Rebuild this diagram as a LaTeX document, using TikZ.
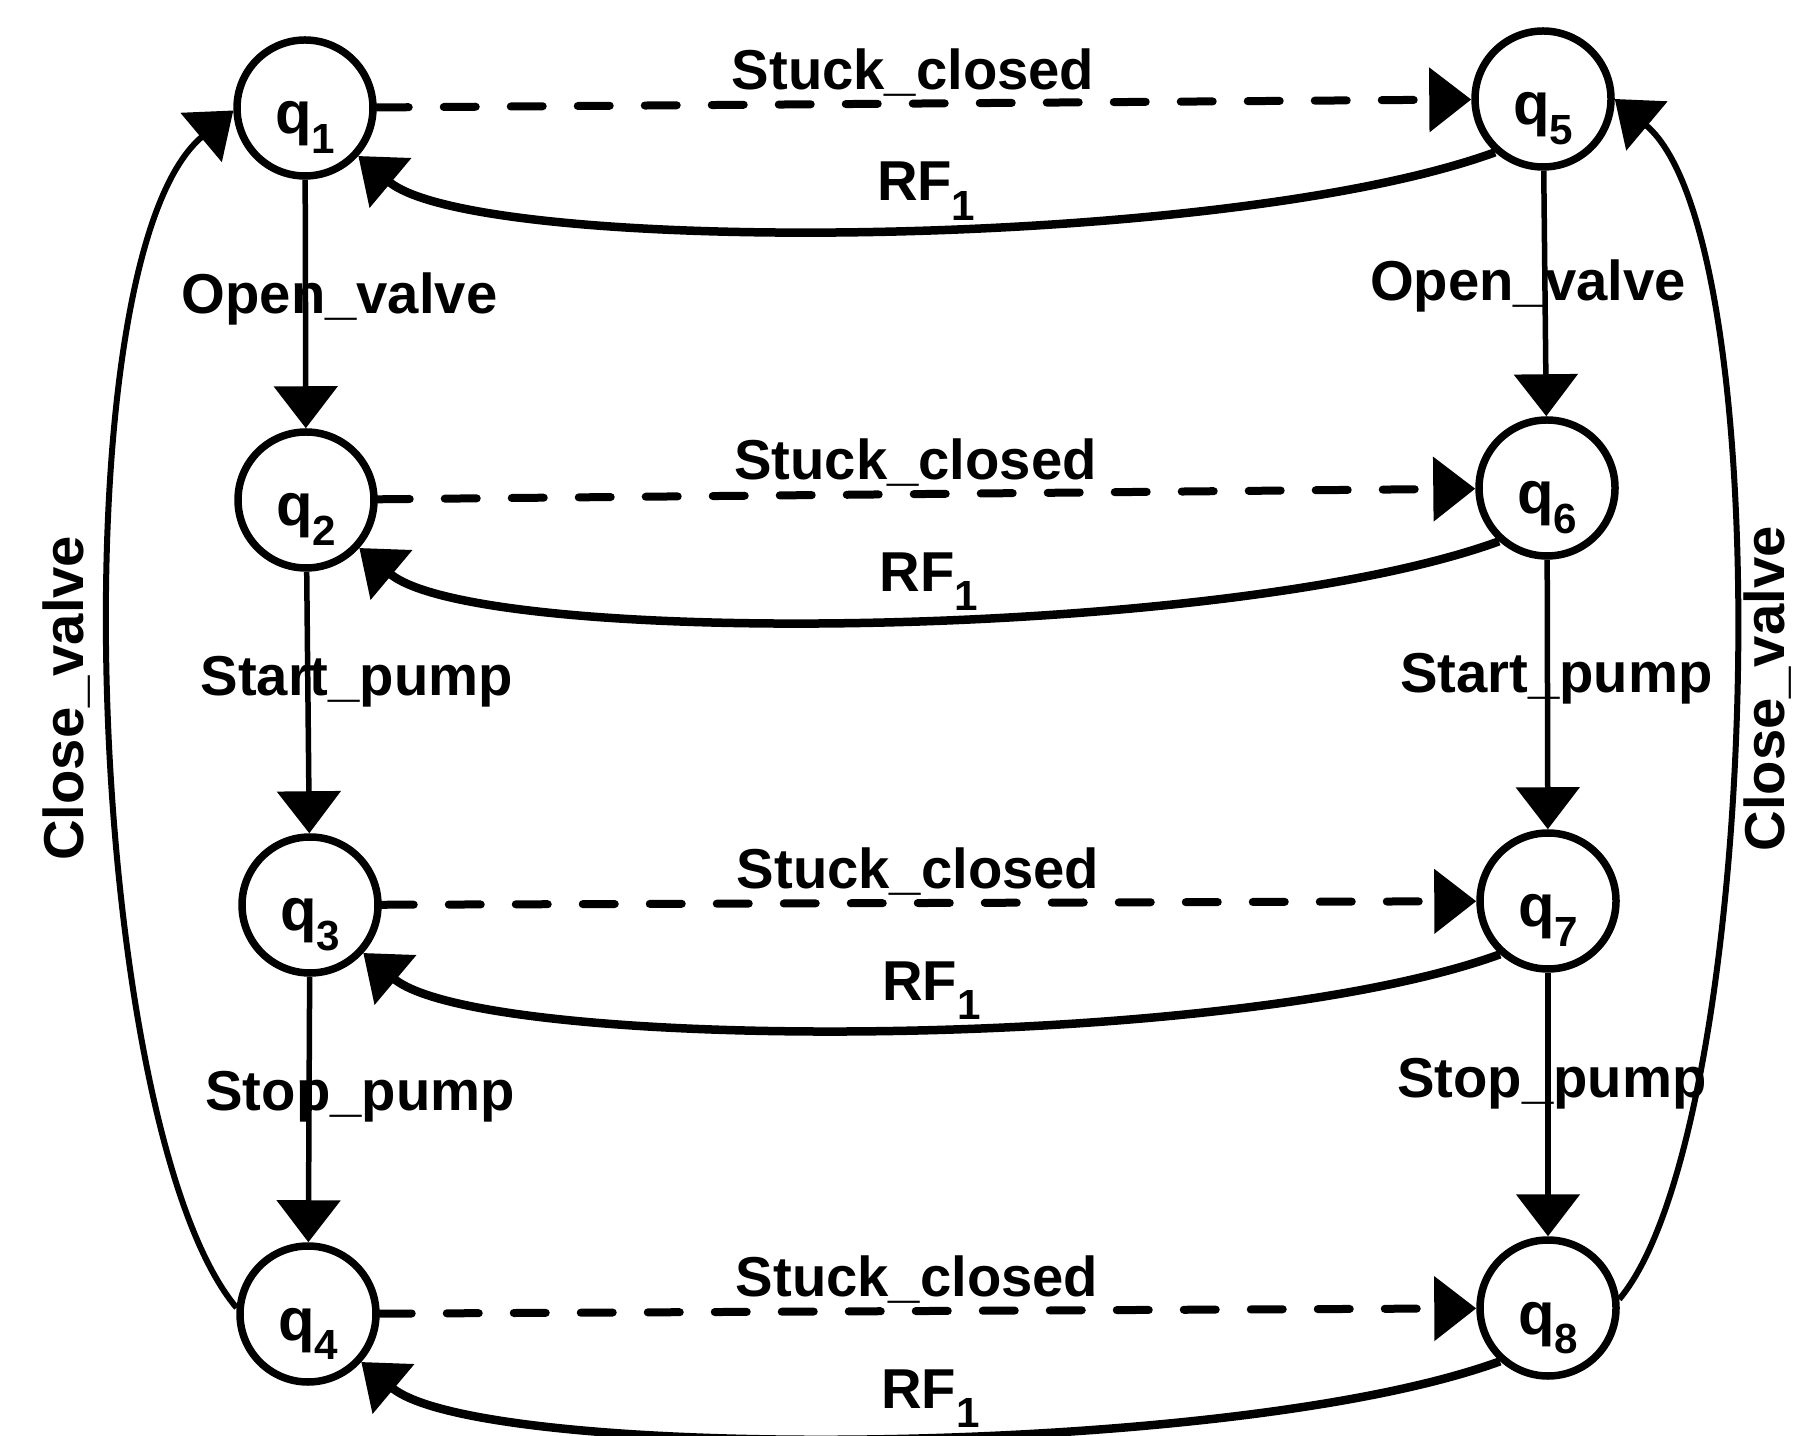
\documentclass[tikz,border=0pt]{standalone}
\usepackage{fontspec}
\setmainfont{Liberation Sans}
\usetikzlibrary{arrows.meta}
\newcommand{\idx}[1]{\raisebox{-5.5pt}{\fontsize{12}{12}\selectfont #1}}
\tikzset{
	qstate/.style={circle, draw, line width=0.075cm, minimum size=1.36cm, inner sep=0pt, text height=0.58cm, text depth=0.06cm, font=\fontsize{17}{19}\selectfont\bfseries},
	lbl/.style={inner sep=1pt, font=\fontsize{16}{18}\selectfont\bfseries},
	arr/.style={-{Triangle[length=4.2mm, width=6.3mm]}},
	act/.style={arr, line width=0.055cm},
	fault/.style={arr, line width=0.08cm, line cap=round, dash pattern=on 3.2mm off 3.5mm},
	repair/.style={arr, line width=0.085cm},
	shut/.style={arr, line width=0.06cm}
}

\begin{document}
\begin{tikzpicture}
	%%%%% START %%%%%
	\useasboundingbox (0,0) rectangle (17.99,-14.36);
	
	\node[qstate] (q1) at (3.05,-1.08) {q\idx{1}};
	\node[qstate] (q2) at (3.06,-5.00) {q\idx{2}};
	\node[qstate] (q3) at (3.10,-9.05) {q\idx{3}};
	\node[qstate] (q4) at (3.08,-13.14) {q\idx{4}};
	
	\node[qstate] (q5) at (15.43,-0.99) {q\idx{5}};
	\node[qstate] (q6) at (15.47,-4.88) {q\idx{6}};
	\node[qstate] (q7) at (15.48,-9.01) {q\idx{7}};
	\node[qstate] (q8) at (15.48,-13.08) {q\idx{8}};
	
	\draw[act] (q1) -- node[lbl, pos=0.48, xshift=3.4mm] {Open\_valve} (q2);
	\draw[act] (q2) -- node[lbl, pos=0.42, xshift=4.9mm] {Start\_pump} (q3);
	\draw[act] (q3) -- node[lbl, pos=0.45, xshift=5.1mm] {Stop\_pump} (q4);
	
	\draw[act] (q5) -- node[lbl, pos=0.47, xshift=-1.7mm] {Open\_valve} (q6);
	\draw[act] (q6) -- node[lbl, pos=0.44, xshift=0.9mm] {Start\_pump} (q7);
	\draw[act] (q7) -- node[lbl, pos=0.42, xshift=0.4mm] {Stop\_pump} (q8);
	
	\draw[fault] (q1) -- node[lbl, above=0pt, pos=0.49] {Stuck\_closed} (q5);
	\draw[fault] (q2) -- node[lbl, above=0pt, pos=0.49] {Stuck\_closed} (q6);
	\draw[fault] (q3) -- node[lbl, above=0pt, pos=0.49] {Stuck\_closed} (q7);
	\draw[fault] (q4) -- node[lbl, above=0pt, pos=0.49] {Stuck\_closed} (q8);
	
	\draw[repair] (q5.228) to[out=200, in=-40, out looseness=0.65, in looseness=0.35] node[lbl, above=0pt, pos=0.46] {RF\idx{1}} (q1.-42);
	\draw[repair] (q6.228) to[out=200, in=-40, out looseness=0.65, in looseness=0.35] node[lbl, above=0pt, pos=0.46] {RF\idx{1}} (q2.-42);
	\draw[repair] (q7.228) to[out=200, in=-40, out looseness=0.65, in looseness=0.35] node[lbl, above=0pt, pos=0.46] {RF\idx{1}} (q3.-42);
	\draw[repair] (q8.228) to[out=200, in=-40, out looseness=0.65, in looseness=0.35] node[lbl, above=0pt, pos=0.46] {RF\idx{1}} (q4.-42);
	
	\draw[shut] (q4.175) to[out=130, in=220, looseness=0.5] node[lbl, xshift=-4.5mm, rotate=90] {Close\_valve} (q1.182);
	\draw[shut] (q8.7) to[out=50, in=-40, looseness=0.47] node[lbl, xshift=3.4mm, rotate=90] {Close\_valve} (q5.0);
	
	%%%%% END %%%%%
\end{tikzpicture}
\end{document}
